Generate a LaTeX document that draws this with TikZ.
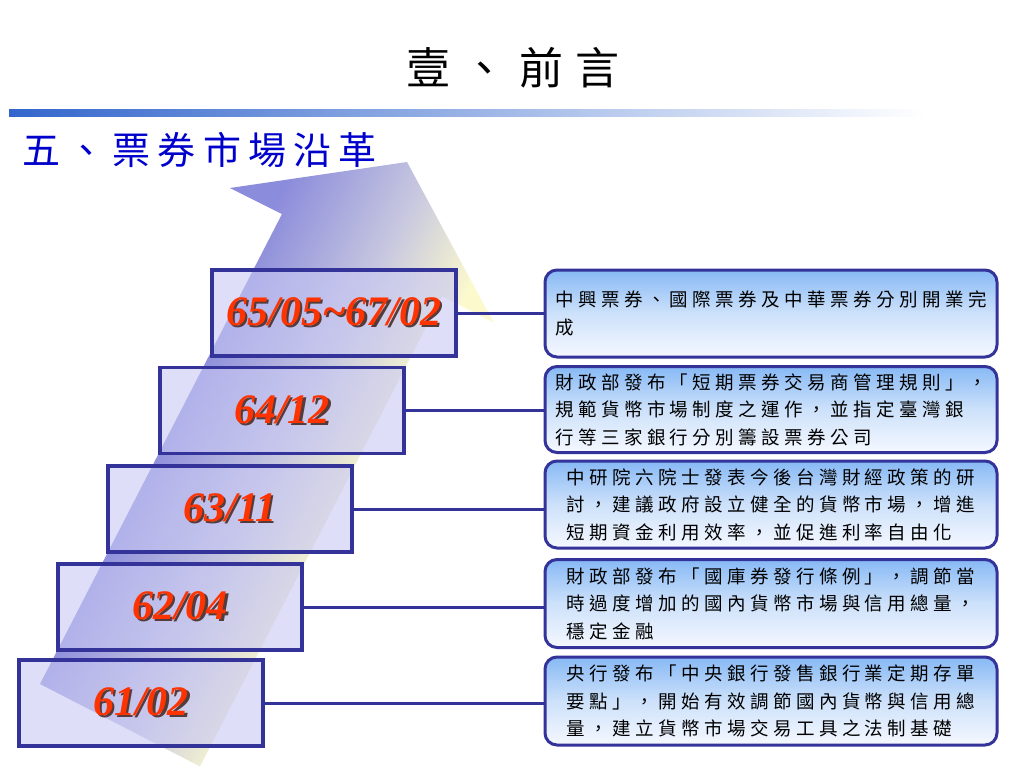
\documentclass[tikz,border=0pt]{standalone}
\usepackage{fontspec}
\setmainfont{Liberation Serif}
\newfontfamily\cjkbody[LetterSpace=24]{Noto Sans CJK TC}
\newfontfamily\cjktitle[LetterSpace=28]{Noto Sans CJK TC}
\newfontfamily\cjksub[LetterSpace=19]{Noto Sans CJK TC}
\definecolor{edgeblue}{RGB}{51,51,153}
\definecolor{boxfill}{RGB}{200,200,245}
\definecolor{datered}{RGB}{255,51,0}
\definecolor{dateshadow}{RGB}{85,60,60}
\definecolor{barblue}{RGB}{51,102,204}
\definecolor{subblue}{RGB}{0,0,204}
\definecolor{arrowL}{RGB}{140,140,220}
\definecolor{arrowM}{RGB}{200,200,224}
\definecolor{arrowR}{RGB}{252,250,205}
\definecolor{tbtop}{RGB}{135,185,245}
\definecolor{tbbot}{RGB}{245,248,255}
\pgfdeclareverticalshading{arrowshade}{100bp}{color(0bp)=(arrowR); color(40bp)=(arrowR); color(49bp)=(arrowM); color(61bp)=(arrowL); color(100bp)=(arrowL)}
\newcommand\datetext[1]{\makebox[0pt][l]{\hspace{2.2pt}\raisebox{-2.2pt}{\color{dateshadow}#1}}#1}
\tikzset{
  datebox/.style={draw=edgeblue, line width=3.2pt, fill=boxfill, fill opacity=0.6,
    text opacity=1, minimum width=244, minimum height=86, inner sep=0pt,
    text=datered, font=\fontsize{42}{48}\selectfont\bfseries\itshape},
  infobox/.style={draw=edgeblue, line width=3pt, rounded corners=12pt,
    top color=tbtop, bottom color=tbbot, middle color={rgb,255:red,205;green,225;blue,250},
    minimum width=452, minimum height=87, inner sep=0pt, align=left,
    font=\cjkbody\fontsize{18.5}{27.5}\selectfont},
  conn/.style={draw=edgeblue, line width=3pt}
}
\begin{document}
\begin{tikzpicture}[x=1pt,y=-1pt]
\useasboundingbox (0,0) rectangle (1024,768);
\fill[white] (0,0) rectangle (1024,768);
% header
\node (title) at (513,68) {\cjktitle\fontsize{44}{50}\selectfont 壹、前言};
\shade[left color=barblue, right color=white] (9,109) rectangle (925,116);
\node[anchor=west, inner sep=0pt, text=subblue] (sub) at (22,150) {\cjksub\fontsize{38}{44}\selectfont 五、票券市場沿革};
% big arrow
\shade[shading=arrowshade, shading angle=62.8]
  (407,162) -- (493.6,322.5) -- (442,296) -- (200,766.4) -- (40,684) -- (282,214) -- (230,188) -- cycle;
% date boxes
\node[datebox] (d1) at (334,313) {\datetext{65/05\char`\~67/02}};
\node[datebox] (d2) at (282,410.5) {\datetext{64/12}};
\node[datebox] (d3) at (230,509) {\datetext{63/11}};
\node[datebox] (d4) at (180,607) {\datetext{62/04}};
\node[datebox] (d5) at (141,703) {\datetext{61/02}};
% info boxes
\node[infobox] (t1) at (771,313.5) {中興票券、國際票券及中華票券分別開業完\\成};
\node[infobox, minimum height=86] (t2) at (771,409.5) {財政部發布「短期票券交易商管理規則」，\\規範貨幣市場制度之運作，並指定臺灣銀\\行等三家銀行分別籌設票券公司};
\node[infobox] (t3) at (771,504.5) {中研院六院士發表今後台灣財經政策的研\\討，建議政府設立健全的貨幣市場，增進\\短期資金利用效率，並促進利率自由化};
\node[infobox, minimum height=88] (t4) at (771,603.5) {財政部發布「國庫券發行條例」，調節當\\時過度增加的國內貨幣市場與信用總量，\\穩定金融};
\node[infobox, minimum height=88] (t5) at (771,701) {央行發布「中央銀行發售銀行業定期存單\\要點」，開始有效調節國內貨幣與信用總\\量，建立貨幣市場交易工具之法制基礎};
% connectors
\foreach \i in {1,...,5}{
  \draw[conn] (d\i.east) -- (d\i.east -| t\i.west);
}
\end{tikzpicture}
\end{document}
